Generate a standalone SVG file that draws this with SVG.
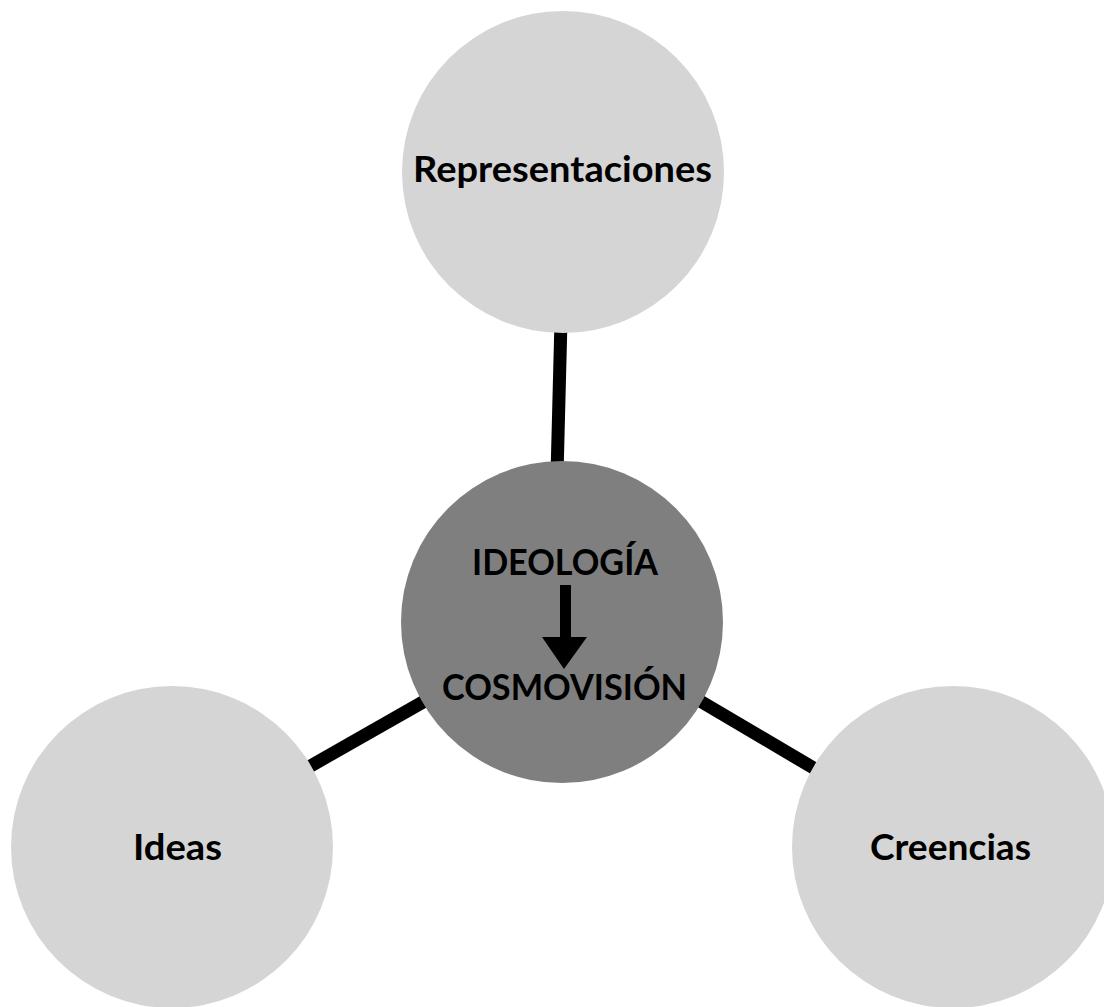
<svg xmlns="http://www.w3.org/2000/svg" width="1104" height="1007" viewBox="0 0 1104 1007">
<style>
.outer{fill:#d5d5d5}
.core{fill:#7f7f7f}
.lbl{font-family:Lato,"Liberation Sans",sans-serif;font-weight:bold;font-size:37px;fill:#000;text-anchor:middle}
.conn{stroke:#000;stroke-width:13;fill:none}
</style>
<rect width="1104" height="1007" fill="#fff"/>
<g id="connectors">
<line class="conn" x1="561" y1="320" x2="557" y2="475"/>
<line class="conn" x1="300" y1="772" x2="430" y2="698"/>
<line class="conn" x1="695" y1="698" x2="822" y2="773"/>
</g>
<g id="node-representaciones">
<circle class="outer" cx="563" cy="172" r="161"/>
<text class="lbl" x="562.5" y="182" textLength="299" lengthAdjust="spacingAndGlyphs">Representaciones</text>
</g>
<g id="node-ideas">
<circle class="outer" cx="172" cy="847" r="161"/>
<text class="lbl" x="177.5" y="860" textLength="89" lengthAdjust="spacingAndGlyphs">Ideas</text>
</g>
<g id="node-creencias">
<circle class="outer" cx="953" cy="847" r="161"/>
<text class="lbl" x="950.5" y="860" textLength="161" lengthAdjust="spacingAndGlyphs">Creencias</text>
</g>
<g id="node-center">
<circle class="core" cx="562" cy="622" r="161"/>
<text class="lbl" x="565" y="575" textLength="186" lengthAdjust="spacingAndGlyphs">IDEOLOGÍA</text>
<polygon points="560,585 571,585 571,637 587,637 564,669 542,637 560,637" fill="#000"/>
<text class="lbl" x="564.5" y="700" textLength="245" lengthAdjust="spacingAndGlyphs">COSMOVISIÓN</text>
</g>
</svg>
